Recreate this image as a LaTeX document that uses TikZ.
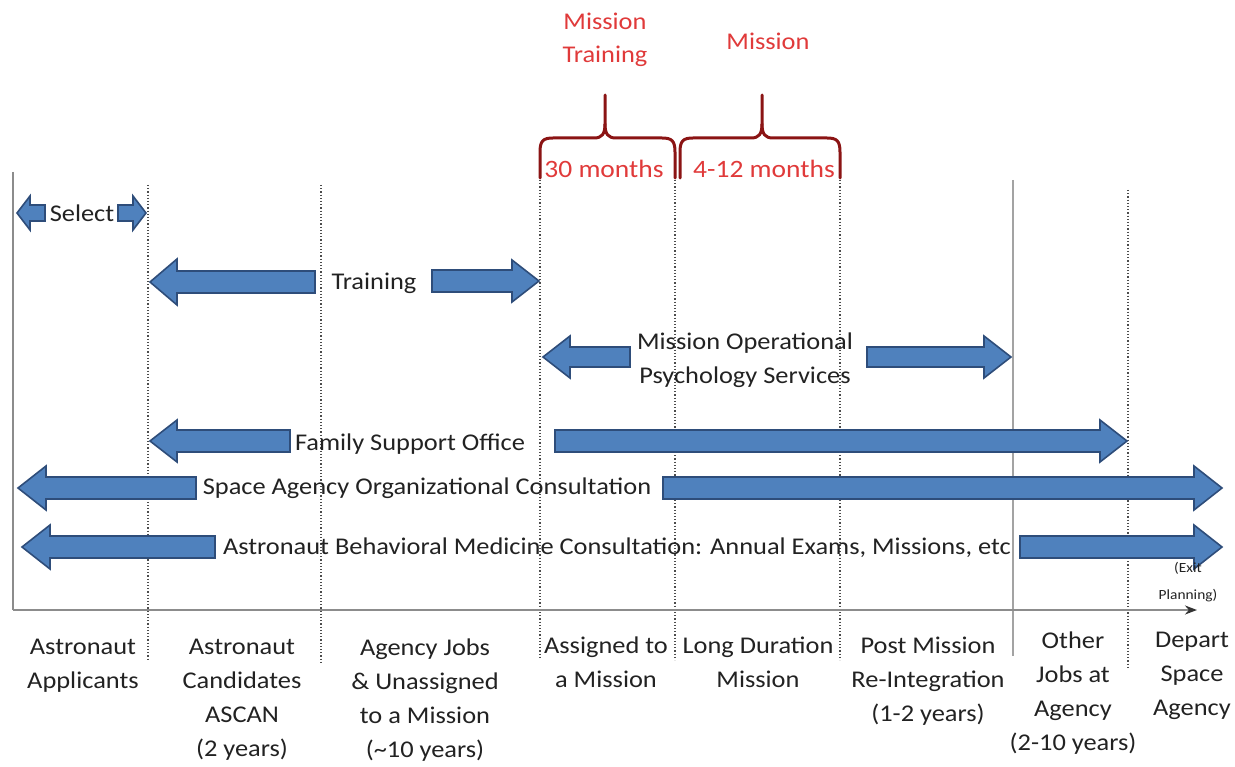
\documentclass[tikz,border=0pt]{standalone}
\usepackage{fontspec}
\setmainfont{Carlito}[FakeStretch=1.1]
\usetikzlibrary{arrows.meta}
\definecolor{arrfill}{HTML}{4F81BD}
\definecolor{arrdraw}{HTML}{2E4D7A}
\definecolor{axisgray}{HTML}{8C8C8C}
\definecolor{bracered}{HTML}{8B1414}
\definecolor{txtred}{HTML}{E03A3A}
\definecolor{txtgray}{HTML}{222222}
\newcommand{\barrow}[6]{% tail x, tip x, y, body half, head half, signed head length
  \draw[blockarrow] (#1,{#3-#4}) -- ({#2-#6},{#3-#4}) -- ({#2-#6},{#3-#5}) -- (#2,#3)
    -- ({#2-#6},{#3+#5}) -- ({#2-#6},{#3+#4}) -- (#1,{#3+#4}) -- cycle;}
\begin{document}
\begin{tikzpicture}[x=1pt,y=-1pt,
  blockarrow/.style={fill=arrfill,draw=arrdraw,line width=1.6pt,line join=miter},
  lbl/.style={text=txtgray,font=\fontsize{24}{34}\selectfont,align=center,inner sep=0pt},
  redlbl/.style={text=txtred,font=\fontsize{24}{33}\selectfont,align=center,inner sep=0pt},
  vdot/.style={draw=black!70,line width=1.2pt,dotted},
  brace/.style={draw=bracered,line width=3pt,line cap=round}]
\useasboundingbox (0,0) rectangle (1235,767);
% dotted phase dividers
\draw[vdot] (148,185) -- (148,660);
\draw[vdot] (321,185) -- (321,662);
\draw[vdot] (540,180) -- (540,658);
\draw[vdot] (675,180) -- (675,660);
\draw[vdot] (840,180) -- (840,660);
\draw[vdot] (1128,190) -- (1128,668);
\draw[draw=axisgray!80,line width=1.5pt] (1013,180) -- (1013,656);
% axes
\coordinate (o) at (13,610);
\coordinate (top) at (13,172);
\coordinate (xend) at (1197,610);
\draw[axisgray,line width=2.5pt] (top) -- (o);
\draw[axisgray,line width=2.5pt,-{Stealth[length=12pt,width=9pt,color=black!80]}] (o) -- (xend);
% braces
\draw[brace] (540,178) -- (540,152) .. controls (540,141) and (543,138) .. (553,138) -- (594,138)
  .. controls (602,138) and (605,134) .. (605,124) -- (605,95);
\draw[brace] (605,124) .. controls (605,134) and (608,138) .. (616,138) -- (662,138)
  .. controls (672,138) and (675,141) .. (675,152) -- (675,178);
\draw[brace] (680,178) -- (680,152) .. controls (680,141) and (683,138) .. (693,138) -- (751,138)
  .. controls (759,138) and (762,134) .. (762,124) -- (762,95);
\draw[brace] (762,124) .. controls (762,134) and (765,138) .. (773,138) -- (827,138)
  .. controls (837,138) and (840,141) .. (840,152) -- (840,178);
\node[redlbl] (mt) at (605,40) {Mission\\Training};
\node[redlbl] (ms) at (768,41) {Mission};
\node[redlbl,font=\fontsize{25}{30}\selectfont] (m30) at (604,169) {30 months};
\node[redlbl,font=\fontsize{25}{30}\selectfont] (m412) at (764,169) {4-12 months};
% Select
\barrow{45}{17}{213}{8}{17}{-13}
\barrow{118}{146}{213}{8}{17}{13}
\node[lbl] (sel) at (82,213) {Select};
% Training
\barrow{315}{150}{282}{11}{23}{-27}
\barrow{432}{539}{281}{11}{21}{27}
\node[lbl] (trn) at (374,283) {Training};
% Mission operational psychology
\barrow{630}{543}{357}{10}{21}{-27}
\barrow{867}{1011}{357}{10}{21}{27}
\node[lbl] (mops) at (745,360) {Mission Operational\\Psychology Services};
% Family support
\barrow{290}{150}{441}{11}{21}{-27}
\barrow{555}{1127}{441}{11}{21}{27}
\node[lbl] (fso) at (410,444) {Family Support Office};
% Space agency
\barrow{196}{18}{488}{11}{22}{-28}
\barrow{663}{1222}{488}{11}{22}{28}
\node[lbl] (sao) at (427,488) {Space Agency Organizational Consultation};
% Behavioral medicine
\barrow{215}{22}{547}{11}{22}{-28}
\barrow{1020}{1222}{547}{11}{22}{28}
\node[lbl] (abm) at (617,548) {Astronaut Behavioral Medicine Consultation: Annual Exams, Missions, etc};
\node[lbl,font=\fontsize{14}{27}\selectfont] (exit) at (1188,582) {(Exit\\Planning)};
% phase labels
\node[lbl,anchor=north] (p1) at (83,639) {Astronaut\\Applicants};
\node[lbl,anchor=north] (p2) at (242,639) {Astronaut\\Candidates\\ASCAN\\(2 years)};
\node[lbl,anchor=north] (p3) at (425,639) {Agency Jobs\\\& Unassigned\\to a Mission\\(\textasciitilde10 years)};
\node[lbl,anchor=north] (p4) at (606,637) {Assigned to\\a Mission};
\node[lbl,anchor=north] (p5) at (758,637) {Long Duration\\Mission};
\node[lbl,anchor=north] (p6) at (928,637) {Post Mission\\Re-Integration\\(1-2 years)};
\node[lbl,anchor=north] (p7) at (1073,632) {Other\\Jobs at\\Agency\\(2-10 years)};
\node[lbl,anchor=north] (p8) at (1192,632) {Depart\\Space\\Agency};
\end{tikzpicture}
\end{document}
